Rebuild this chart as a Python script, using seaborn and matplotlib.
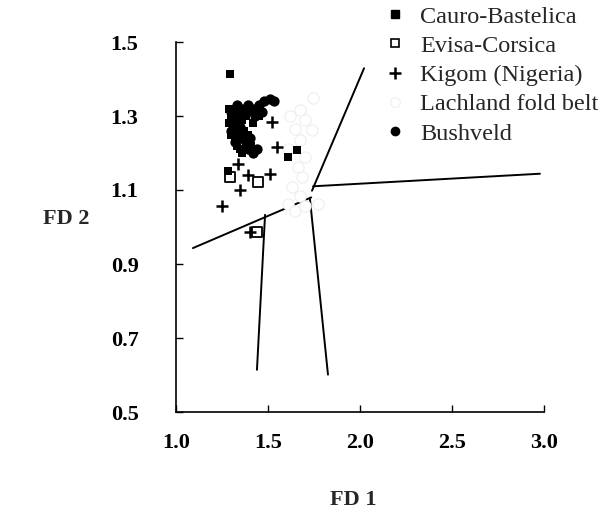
import numpy as np
import pandas as pd
import matplotlib
matplotlib.use("Agg")
import matplotlib.pyplot as plt
from matplotlib.lines import Line2D
import seaborn as sns

# Discriminant-function scores (FD 1, FD 2) per suite
cauro_fd1 = [1.293, 1.29, 1.30, 1.29, 1.31, 1.30, 1.32, 1.33, 1.35, 1.37, 1.36, 1.34, 1.36,
             1.38, 1.40, 1.42, 1.45, 1.39, 1.41, 1.37, 1.32, 1.609, 1.658, 1.283]
cauro_fd2 = [1.413, 1.32, 1.30, 1.28, 1.27, 1.25, 1.24, 1.22, 1.21, 1.21, 1.20, 1.31, 1.29,
             1.30, 1.31, 1.28, 1.30, 1.25, 1.22, 1.26, 1.29, 1.190, 1.207, 1.152]

evisa_fd1 = [1.293, 1.446, 1.440]
evisa_fd2 = [1.136, 1.122, 0.986]

kigom_fd1 = [1.522, 1.549, 1.337, 1.391, 1.348, 1.250, 1.511, 1.391, 1.402]
kigom_fd2 = [1.285, 1.217, 1.171, 1.141, 1.101, 1.057, 1.144, 1.239, 0.986]

lachland_fd1 = [1.745, 1.674, 1.620, 1.701, 1.647, 1.739, 1.674, 1.609, 1.701,
                1.663, 1.685, 1.630, 1.674, 1.609, 1.701, 1.647, 1.772]
lachland_fd2 = [1.348, 1.315, 1.299, 1.288, 1.266, 1.261, 1.234, 1.212, 1.190,
                1.163, 1.136, 1.109, 1.084, 1.063, 1.057, 1.043, 1.063]

bushveld_fd1 = [1.30, 1.33, 1.36, 1.39, 1.42, 1.45, 1.48, 1.51, 1.53, 1.47, 1.43,
                1.31, 1.33, 1.35, 1.32, 1.38, 1.40, 1.42, 1.39, 1.44, 1.35, 1.30]
bushveld_fd2 = [1.31, 1.33, 1.32, 1.33, 1.32, 1.33, 1.34, 1.345, 1.34, 1.31, 1.30,
                1.28, 1.26, 1.27, 1.23, 1.23, 1.24, 1.20, 1.21, 1.21, 1.24, 1.26]

# Field boundaries: (x0, y0, x1, y1)
boundaries = [
    (1.739, 1.098, 2.022, 1.429),
    (1.745, 1.110, 2.978, 1.144),
    (1.728, 1.076, 1.826, 0.601),
    (1.484, 1.033, 1.440, 0.614),
    (1.092, 0.943, 1.735, 1.080),
]

x_ticks = [1.0, 1.5, 2.0, 2.5, 3.0]
y_ticks = [0.5, 0.7, 0.9, 1.1, 1.3, 1.5]

groups = ["Cauro-Bastelica", "Evisa-Corsica", "Kigom (Nigeria)", "Lachland fold belt", "Bushveld"]
frames = []
for name, xs, ys in zip(groups,
                        [cauro_fd1, evisa_fd1, kigom_fd1, lachland_fd1, bushveld_fd1],
                        [cauro_fd2, evisa_fd2, kigom_fd2, lachland_fd2, bushveld_fd2]):
    frames.append(pd.DataFrame({"FD1": xs, "FD2": ys, "group": name}))
df = pd.concat(frames, ignore_index=True)

sns.set_theme(style="ticks")
plt.rcParams["font.family"] = ["Liberation Serif", "DejaVu Serif"]

fig = plt.figure(figsize=(6.04, 5.18), dpi=100)
ax = fig.add_axes([176 / 604, 1 - 412 / 518, (544 - 176) / 604, (412 - 42) / 518])

for x0, y0, x1, y1 in boundaries:
    ax.plot([x0, x1], [y0, y1], color="black", lw=1.4, zorder=1)

sub = df[df.group == "Bushveld"]
sns.scatterplot(data=sub, x="FD1", y="FD2", ax=ax, marker="o", s=55, color="black",
                edgecolor="black", linewidth=0, legend=False, zorder=3)
sub = df[df.group == "Cauro-Bastelica"]
sns.scatterplot(data=sub, x="FD1", y="FD2", ax=ax, marker="s", s=40, color="black",
                edgecolor="black", linewidth=0, legend=False, zorder=3)
sub = df[df.group == "Lachland fold belt"]
sns.scatterplot(data=sub, x="FD1", y="FD2", ax=ax, marker="o", s=65, color="white",
                edgecolor="#eeeeee", linewidth=0.8, legend=False, zorder=2)
sub = df[df.group == "Evisa-Corsica"]
sns.scatterplot(data=sub, x="FD1", y="FD2", ax=ax, marker="s", s=50, facecolor="none",
                edgecolor="black", linewidth=1.3, legend=False, zorder=4)
sub = df[df.group == "Kigom (Nigeria)"]
sns.scatterplot(data=sub, x="FD1", y="FD2", ax=ax, marker="+", s=70, color="black",
                linewidth=1.8, legend=False, zorder=4)

ax.set_xlim(1.0, 3.0)
ax.set_ylim(0.5, 1.5)
ax.set_xticks(x_ticks)
ax.set_yticks(y_ticks)
ax.set_xticklabels([f"{v:.1f}" for v in x_ticks], fontweight="bold", fontsize=16)
ax.set_yticklabels([f"{v:.1f}" for v in y_ticks], fontweight="bold", fontsize=16)
ax.tick_params(axis="x", direction="in", length=5, width=1, pad=15, colors="black")
ax.tick_params(axis="y", direction="in", length=5, width=1, pad=27, colors="black")
sns.despine(ax=ax)
for sp in ("left", "bottom"):
    ax.spines[sp].set_linewidth(1.2)
    ax.spines[sp].set_color("black")
ax.set_xlabel("")
ax.set_ylabel("")

fig.text(66 / 604, 1 - 219 / 518, "FD 2", fontweight="bold", fontsize=16,
         ha="center", va="center")
fig.text(353 / 604, 1 - 500 / 518, "FD 1", fontweight="bold", fontsize=16,
         ha="center", va="center")

handles = [
    Line2D([], [], ls="", marker="s", ms=6, mfc="black", mec="black"),
    Line2D([], [], ls="", marker="s", ms=6, mfc="white", mec="black", mew=1.2),
    Line2D([], [], ls="", marker="+", ms=8, mec="black", mew=1.8),
    Line2D([], [], ls="", marker="o", ms=7, mfc="white", mec="#eeeeee", mew=0.8),
    Line2D([], [], ls="", marker="o", ms=6, mfc="black", mec="black"),
]
fig.legend(handles, groups, loc="upper left", bbox_to_anchor=(383 / 604, 1 - 5.5 / 518),
           frameon=False, fontsize=17.5, handlelength=1.0, handletextpad=0.53,
           labelspacing=0.3, borderpad=0, borderaxespad=0)

fig.savefig("out.png", dpi=100)
